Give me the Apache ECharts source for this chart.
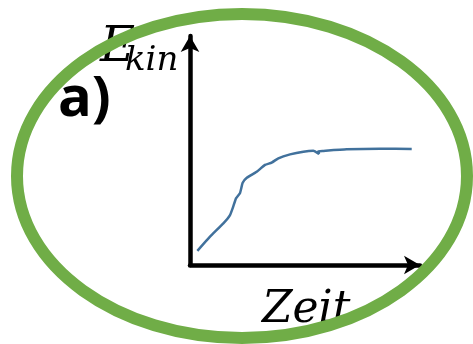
<!DOCTYPE html>
<html>
<head>
<meta charset="utf-8">
<script src="https://cdn.jsdelivr.net/npm/echarts@6/dist/echarts.min.js"></script>
<style>
  html, body { margin: 0; padding: 0; background: #fff; }
  #chart { width: 473px; height: 344px; }
</style>
</head>
<body>
<div id="chart"></div>
<script>
// sketch curve: Ekin over time (no units, 0..100 on both axes)
const timeVals = [3.2, 8.7, 14.5, 17.4, 18.8, 20.0, 21.7, 22.9, 24.7, 29.0, 32.6, 35.5, 38.4, 43.5, 49.3, 53.6, 56.1, 55.7, 58.0, 68.1, 82.6, 96.4];
const ekinVals = [6.2, 12.4, 18.2, 21.8, 25.5, 29.1, 31.3, 35.9, 38.1, 40.7, 43.7, 44.7, 46.6, 48.3, 49.5, 49.9, 48.5, 49.6, 49.8, 50.5, 50.8, 50.7];
const xTitle = 'Zeit';
const yTitle = ['E', 'kin'];
const panelLabel = 'a)';

const chart = echarts.init(document.getElementById('chart'));

const axisCommon = {
  type: 'value',
  min: 0,
  max: 100,
  axisLine: {
    show: true,
    symbol: ['none', 'arrow'],
    symbolSize: [14, 16],
    lineStyle: { color: '#000', width: 4.5 }
  },
  axisTick: { show: false },
  axisLabel: { show: false },
  splitLine: { show: false }
};

const option = {
  animation: false,
  grid: { left: 190, top: 36, right: 53, bottom: 79 },
  xAxis: Object.assign({}, axisCommon),
  yAxis: Object.assign({}, axisCommon),
  series: [
    {
      type: 'line',
      data: timeVals.map((t, i) => [t, ekinVals[i]]),
      showSymbol: false,
      smooth: 0.15,
      lineStyle: { color: '#41719C', width: 2.5 }
    }
  ],
  graphic: [
    {
      type: 'text', left: 100, top: 25, z: 10,
      style: { text: yTitle[0], font: 'italic 48px "DejaVu Serif"', fill: '#000' }
    },
    {
      type: 'text', left: 125, top: 44, z: 10,
      style: { text: yTitle[1], font: 'italic 34px "DejaVu Serif"', fill: '#000' }
    },
    {
      type: 'text', left: 58, top: 72, z: 10,
      style: { text: panelLabel, font: 'bold 56px "Open Sans"', fill: '#000' }
    },
    {
      type: 'text', left: 262, top: 289, z: 10,
      style: { text: xTitle, font: 'italic 44px "DejaVu Serif"', fill: '#000' }
    },
    {
      type: 'ellipse', z: 20,
      shape: { cx: 242, cy: 176, rx: 225, ry: 162 },
      style: { fill: 'none', stroke: '#70AD47', lineWidth: 12 }
    }
  ]
};

chart.setOption(option);
</script>
</body>
</html>
